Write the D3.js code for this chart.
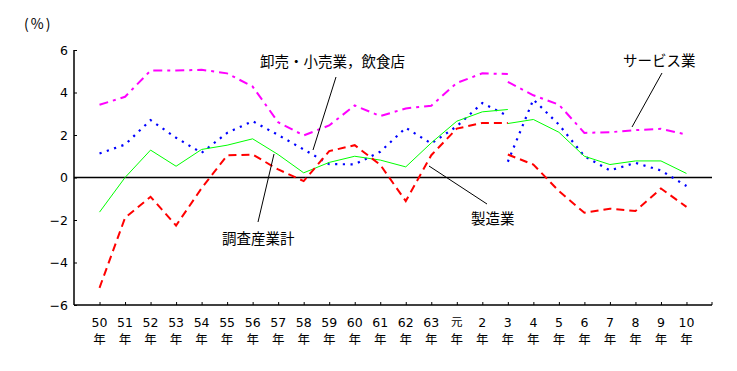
<!DOCTYPE html>
<html>
<head>
<meta charset="utf-8">
<script src="https://cdn.jsdelivr.net/npm/d3@7"></script>
<style>
body { margin: 0; background: #fff; }
text { font-family: "Noto Sans CJK JP", "DejaVu Sans", sans-serif; fill: #000; }
</style>
</head>
<body>
<div id="chart"></div>
<script>
// year labels, top line is the number, second line is 年
var years = ["50", "51", "52", "53", "54", "55", "56", "57", "58", "59", "60", "61", "62", "63",
	"元", "2", "3", "4", "5", "6", "7", "8", "9", "10"];
var yTicks = [-6, -4, -2, 0, 2, 4, 6];

// each series is split at 3年: the old run (50..3) and the new run (3..10)
var serviceOld = [3.42, 3.8, 5.03, 5.03, 5.07, 4.9, 4.28, 2.6, 1.98, 2.45, 3.39, 2.89, 3.25, 3.38, 4.45, 4.9, 4.87];
var serviceNew = [4.5, 3.87, 3.43, 2.1, 2.13, 2.23, 2.29, 2.02];
var tradeOld = [1.13, 1.55, 2.7, 1.87, 1.16, 2.1, 2.65, 2.0, 1.32, 0.63, 0.62, 1.21, 2.34, 1.6, 2.41, 3.5, 2.9];
var tradeNew = [0.74, 3.67, 2.49, 1.0, 0.33, 0.69, 0.33, -0.4];
var totalOld = [-1.63, 0.0, 1.29, 0.53, 1.32, 1.52, 1.82, 1.08, 0.22, 0.71, 1.0, 0.82, 0.5, 1.63, 2.65, 3.09, 3.2];
var totalNew = [2.54, 2.73, 2.13, 1.0, 0.61, 0.78, 0.78, 0.19];
var mfgOld = [-5.19, -1.9, -0.91, -2.26, -0.5, 1.04, 1.08, 0.38, -0.17, 1.24, 1.52, 0.6, -1.11, 1.05, 2.3, 2.57, 2.57];
var mfgNew = [1.08, 0.61, -0.64, -1.66, -1.47, -1.58, -0.52, -1.38];

var width = 737,
	height = 371,
	LEFT = 74,
	RIGHT = 712,
	TOP = 50,
	BOTTOM = 305,
	SPLIT = 16; // index of 3年, where the new runs begin

var svg = d3.select("#chart").append("svg")
	.attr("width", width)
	.attr("height", height);

var x = d3.scalePoint()
	.domain(years)
	.range([LEFT, RIGHT])
	.padding(1);

var y = d3.scaleLinear()
	.domain([-6, 6])
	.range([BOTTOM, TOP]);

// axes: ticks point inward
var yAxis = svg.append("g")
	.attr("transform", "translate(" + LEFT + ",0)")
	.call(d3.axisLeft(y).tickValues(yTicks).tickSize(-3).tickPadding(8).tickFormat(d3.format("d")));

var xAxis = svg.append("g")
	.attr("transform", "translate(0," + BOTTOM + ")")
	.call(d3.axisBottom(x).tickSize(-3).tickFormat(""));

// closing tick at the right end of the x axis
xAxis.append("line")
	.attr("x1", RIGHT).attr("x2", RIGHT)
	.attr("y1", 0).attr("y2", -3)
	.style("stroke", "#000");

svg.selectAll(".domain").style("stroke", "#000").style("stroke-width", 1.5);
svg.selectAll(".tick line").style("stroke", "#000");
yAxis.selectAll("text")
	.style("font-size", "12.5px")
	.style("font-family", "'DejaVu Sans', sans-serif")
	.attr("dx", "2");
yAxis.select(".domain").attr("d", "M0," + TOP + "V" + BOTTOM);
xAxis.select(".domain").attr("d", "M" + LEFT + ",0H" + RIGHT);

// two-line year labels
var labels = svg.append("g").selectAll(".ylab")
	.data(years)
	.enter()
	.append("g")
	.attr("transform", function(d) { return "translate(" + x(d) + ",0)"; });

labels.append("text")
	.attr("y", function(d) { return d == "元" ? 320.5 : 322; })
	.attr("dominant-baseline", "central")
	.style("text-anchor", "middle")
	.style("font-size", function(d) { return d == "元" ? "11.5px" : "12.5px"; })
	.style("font-family", function(d) { return d == "元" ? null : "'DejaVu Sans', sans-serif"; })
	.text(function(d) { return d; });

labels.append("text")
	.attr("y", 338)
	.attr("dominant-baseline", "central")
	.style("text-anchor", "middle")
	.style("font-size", "12.5px")
	.text("年");

// zero line
svg.append("line")
	.attr("x1", LEFT).attr("x2", RIGHT)
	.attr("y1", y(0)).attr("y2", y(0))
	.style("stroke", "#000")
	.style("stroke-width", 1.5);

svg.append("text")
	.attr("x", 24)
	.attr("y", 23)
	.attr("dominant-baseline", "central")
	.style("font-size", "14px")
	.style("letter-spacing", "2px")
	.text("(%)");

var line = d3.line()
	.x(function(d) { return x(d.year); })
	.y(function(d) { return y(d.value); });

var toPoints = function(values, start) {
	return values.map(function(v, i) {
		return { year: years[start + i], value: v };
	});
};

var series = [
	{ old: serviceOld, neu: serviceNew, color: "#ff00ff", width: 2, dash: "9,5,3,5" },
	{ old: tradeOld, neu: tradeNew, color: "#0000ff", width: 2.2, dash: "2.2,5.5" },
	{ old: totalOld, neu: totalNew, color: "#00ff00", width: 1, dash: null },
	{ old: mfgOld, neu: mfgNew, color: "#ff0000", width: 2, dash: "8,5" }
];

series.forEach(function(s) {
	[toPoints(s.old, 0), toPoints(s.neu, SPLIT)].forEach(function(pts) {
		svg.append("path")
			.attr("d", line(pts))
			.style("fill", "none")
			.style("stroke", s.color)
			.style("stroke-width", s.width)
			.style("stroke-dasharray", s.dash);
	});
});

// callout labels with their leader lines
var notes = [
	{ text: "卸売・小売業，飲食店", tx: 260, ty: 60, x1: 336, y1: 77, x2: 313, y2: 150 },
	{ text: "サービス業", tx: 623, ty: 59, x1: 662, y1: 73, x2: 632, y2: 127 },
	{ text: "調査産業計", tx: 222, ty: 237, x1: 258, y1: 222, x2: 274, y2: 154 },
	{ text: "製造業", tx: 471, ty: 217, x1: 487, y1: 204, x2: 429, y2: 166 }
];

notes.forEach(function(n) {
	svg.append("line")
		.attr("x1", n.x1).attr("y1", n.y1)
		.attr("x2", n.x2).attr("y2", n.y2)
		.style("stroke", "#000")
		.style("stroke-width", 1);
	svg.append("text")
		.attr("x", n.tx)
		.attr("y", n.ty)
		.attr("dominant-baseline", "central")
		.style("font-size", "14.5px")
		.text(n.text);
});
</script>
</body>
</html>
